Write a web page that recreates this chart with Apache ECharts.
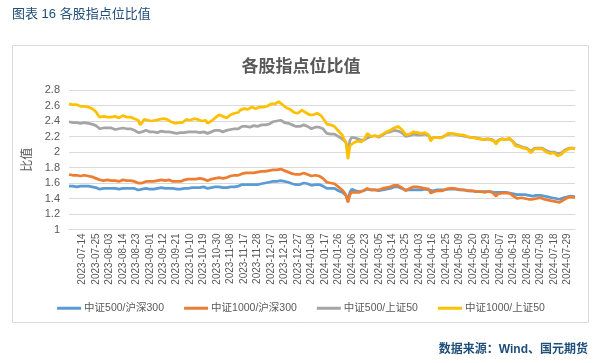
<!DOCTYPE html>
<html>
<head>
<meta charset="utf-8">
<script src="https://cdn.jsdelivr.net/npm/echarts@6/dist/echarts.min.js"></script>
<style>
html,body{margin:0;padding:0;background:#fff;}
#c{width:602px;height:363px;}
</style>
</head>
<body>
<div id="c"></div>
<script>
// trading calendar (China A-share)
const startDate = '2023-07-05';
const endDate = '2024-08-02';
const holidays = ['2023-09-29','2023-10-02','2023-10-03','2023-10-04','2023-10-05','2023-10-06',
  '2024-01-01','2024-02-09','2024-02-12','2024-02-13','2024-02-14','2024-02-15','2024-02-16',
  '2024-04-04','2024-04-05','2024-05-01','2024-05-02','2024-05-03','2024-06-10'];
const seriesNames = ['中证500/沪深300','中证1000/沪深300','中证500/上证50','中证1000/上证50'];

const csi500_hs300 = [
1.56,1.56,1.56,1.56,1.55,1.56,1.56,1.55,1.56,1.56,
1.56,1.55,1.55,1.55,1.54,1.53,1.52,1.52,1.53,1.53,
1.53,1.53,1.53,1.52,1.53,1.53,1.52,1.53,1.53,1.53,
1.53,1.53,1.53,1.53,1.53,1.52,1.51,1.50,1.52,1.53,
1.53,1.52,1.52,1.52,1.52,1.52,1.53,1.53,1.54,1.54,
1.53,1.53,1.53,1.53,1.53,1.52,1.52,1.52,1.52,1.53,
1.53,1.53,1.53,1.54,1.54,1.54,1.54,1.54,1.54,1.55,
1.55,1.54,1.53,1.54,1.54,1.54,1.55,1.55,1.55,1.54,
1.54,1.54,1.54,1.54,1.55,1.55,1.55,1.56,1.56,1.57,
1.58,1.58,1.58,1.58,1.58,1.58,1.58,1.58,1.58,1.59,
1.59,1.59,1.60,1.60,1.61,1.61,1.62,1.62,1.62,1.63,
1.63,1.62,1.62,1.61,1.61,1.60,1.59,1.58,1.58,1.58,
1.58,1.59,1.60,1.59,1.59,1.58,1.57,1.57,1.58,1.58,
1.58,1.57,1.56,1.55,1.53,1.52,1.53,1.53,1.53,1.51,
1.50,1.49,1.48,1.46,1.44,1.37,1.48,1.52,1.51,1.50,
1.50,1.49,1.49,1.50,1.51,1.52,1.52,1.51,1.51,1.51,
1.50,1.50,1.50,1.51,1.52,1.52,1.53,1.53,1.54,1.55,
1.55,1.55,1.54,1.53,1.52,1.51,1.50,1.51,1.51,1.51,
1.51,1.51,1.51,1.51,1.52,1.52,1.51,1.51,1.50,1.50,
1.50,1.51,1.51,1.51,1.51,1.51,1.52,1.52,1.52,1.52,
1.52,1.52,1.52,1.51,1.51,1.51,1.51,1.50,1.50,1.50,
1.50,1.49,1.49,1.49,1.49,1.49,1.49,1.49,1.49,1.49,
1.49,1.48,1.47,1.48,1.48,1.48,1.48,1.48,1.48,1.47,
1.47,1.46,1.45,1.45,1.45,1.45,1.45,1.45,1.44,1.44,
1.43,1.43,1.44,1.44,1.44,1.44,1.43,1.43,1.42,1.42,
1.41,1.41,1.41,1.40,1.40,1.39,1.40,1.41,1.42,1.42,
1.43,1.43,1.42,1.42];

const csi1000_hs300 = [
1.71,1.71,1.70,1.70,1.70,1.70,1.69,1.69,1.70,1.70,
1.69,1.68,1.68,1.67,1.66,1.65,1.64,1.63,1.63,1.64,
1.64,1.64,1.63,1.63,1.63,1.63,1.62,1.63,1.64,1.64,
1.63,1.63,1.63,1.62,1.62,1.62,1.60,1.58,1.60,1.62,
1.62,1.62,1.62,1.62,1.62,1.62,1.63,1.63,1.64,1.64,
1.63,1.63,1.64,1.63,1.62,1.62,1.62,1.62,1.62,1.63,
1.64,1.64,1.65,1.65,1.65,1.65,1.65,1.66,1.66,1.65,
1.65,1.64,1.63,1.64,1.65,1.65,1.66,1.67,1.67,1.66,
1.66,1.66,1.67,1.68,1.69,1.70,1.70,1.70,1.70,1.71,
1.72,1.72,1.73,1.73,1.73,1.73,1.73,1.74,1.74,1.74,
1.75,1.75,1.75,1.76,1.76,1.77,1.77,1.77,1.77,1.78,
1.78,1.77,1.76,1.75,1.74,1.73,1.72,1.72,1.71,1.71,
1.71,1.72,1.73,1.72,1.71,1.70,1.69,1.69,1.70,1.70,
1.69,1.68,1.66,1.64,1.61,1.60,1.60,1.60,1.59,1.57,
1.55,1.53,1.51,1.48,1.44,1.35,1.45,1.48,1.48,1.48,
1.48,1.48,1.49,1.50,1.51,1.53,1.52,1.51,1.51,1.51,
1.51,1.51,1.52,1.53,1.53,1.54,1.55,1.55,1.56,1.57,
1.57,1.57,1.56,1.54,1.52,1.50,1.51,1.53,1.54,1.55,
1.55,1.55,1.54,1.54,1.54,1.53,1.52,1.52,1.47,1.49,
1.49,1.49,1.50,1.50,1.50,1.51,1.52,1.53,1.53,1.53,
1.53,1.52,1.52,1.51,1.51,1.51,1.51,1.51,1.50,1.50,
1.50,1.49,1.49,1.49,1.49,1.49,1.48,1.49,1.49,1.48,
1.48,1.46,1.43,1.46,1.47,1.47,1.47,1.47,1.47,1.47,
1.45,1.43,1.41,1.40,1.41,1.41,1.40,1.40,1.40,1.39,
1.39,1.39,1.40,1.40,1.40,1.41,1.40,1.39,1.38,1.38,
1.37,1.37,1.37,1.36,1.36,1.35,1.36,1.38,1.40,1.41,
1.42,1.42,1.41,1.41];

const csi500_sse50 = [
2.39,2.38,2.38,2.38,2.38,2.38,2.37,2.37,2.38,2.38,
2.37,2.36,2.36,2.35,2.34,2.32,2.30,2.30,2.31,2.31,
2.31,2.31,2.31,2.30,2.29,2.29,2.30,2.31,2.31,2.30,
2.30,2.30,2.30,2.29,2.28,2.27,2.25,2.25,2.26,2.27,
2.28,2.27,2.26,2.26,2.26,2.25,2.25,2.26,2.27,2.27,
2.26,2.26,2.26,2.25,2.25,2.24,2.24,2.24,2.25,2.25,
2.25,2.26,2.26,2.26,2.26,2.26,2.26,2.26,2.25,2.25,
2.26,2.25,2.24,2.25,2.26,2.27,2.28,2.29,2.28,2.26,
2.26,2.27,2.28,2.28,2.29,2.30,2.30,2.30,2.30,2.32,
2.33,2.33,2.33,2.32,2.32,2.33,2.34,2.33,2.33,2.34,
2.35,2.35,2.35,2.36,2.36,2.37,2.39,2.40,2.40,2.42,
2.41,2.39,2.38,2.38,2.37,2.36,2.35,2.34,2.33,2.33,
2.33,2.34,2.35,2.34,2.33,2.31,2.30,2.31,2.32,2.33,
2.32,2.31,2.30,2.27,2.24,2.22,2.23,2.24,2.23,2.21,
2.20,2.19,2.17,2.15,2.12,1.98,2.15,2.19,2.19,2.18,
2.17,2.16,2.15,2.15,2.16,2.18,2.20,2.20,2.21,2.21,
2.20,2.19,2.21,2.22,2.24,2.25,2.25,2.26,2.28,2.28,
2.28,2.27,2.27,2.25,2.24,2.20,2.19,2.21,2.22,2.23,
2.22,2.22,2.22,2.22,2.23,2.23,2.22,2.21,2.17,2.19,
2.19,2.19,2.19,2.18,2.19,2.20,2.22,2.23,2.23,2.23,
2.23,2.22,2.22,2.21,2.21,2.21,2.20,2.20,2.19,2.19,
2.19,2.18,2.18,2.17,2.17,2.16,2.16,2.17,2.17,2.16,
2.16,2.15,2.12,2.15,2.16,2.17,2.16,2.16,2.17,2.17,
2.15,2.13,2.10,2.08,2.08,2.07,2.06,2.06,2.05,2.03,
2.01,2.02,2.05,2.04,2.05,2.06,2.05,2.03,2.02,2.01,
2.00,2.00,2.00,1.99,1.98,1.97,1.99,2.01,2.03,2.04,
2.05,2.05,2.05,2.04];

const csi1000_sse50 = [
2.62,2.62,2.61,2.61,2.61,2.60,2.59,2.58,2.59,2.60,
2.58,2.56,2.56,2.55,2.52,2.48,2.45,2.44,2.46,2.46,
2.45,2.46,2.45,2.45,2.46,2.46,2.44,2.45,2.47,2.46,
2.45,2.45,2.45,2.44,2.43,2.43,2.41,2.35,2.38,2.42,
2.43,2.41,2.40,2.40,2.41,2.41,2.42,2.42,2.44,2.43,
2.42,2.42,2.40,2.39,2.37,2.37,2.38,2.38,2.38,2.38,
2.40,2.42,2.42,2.41,2.42,2.43,2.43,2.42,2.41,2.40,
2.42,2.41,2.37,2.39,2.40,2.42,2.44,2.46,2.48,2.47,
2.46,2.45,2.44,2.46,2.48,2.50,2.50,2.51,2.51,2.54,
2.55,2.56,2.56,2.55,2.56,2.58,2.57,2.56,2.57,2.58,
2.59,2.58,2.57,2.59,2.60,2.62,2.62,2.62,2.63,2.65,
2.64,2.61,2.60,2.57,2.56,2.55,2.53,2.51,2.50,2.50,
2.52,2.54,2.53,2.51,2.49,2.48,2.49,2.48,2.47,2.50,
2.48,2.47,2.45,2.40,2.36,2.34,2.35,2.34,2.33,2.30,
2.27,2.25,2.22,2.16,2.12,1.91,2.08,2.10,2.12,2.13,
2.14,2.14,2.13,2.15,2.18,2.24,2.22,2.20,2.22,2.21,
2.19,2.20,2.21,2.23,2.25,2.26,2.27,2.28,2.30,2.31,
2.32,2.33,2.31,2.29,2.26,2.22,2.20,2.23,2.24,2.26,
2.25,2.25,2.24,2.24,2.26,2.25,2.23,2.22,2.14,2.18,
2.18,2.19,2.19,2.18,2.18,2.20,2.22,2.24,2.23,2.24,
2.24,2.23,2.22,2.22,2.21,2.22,2.21,2.20,2.20,2.19,
2.19,2.18,2.18,2.17,2.16,2.16,2.15,2.17,2.18,2.16,
2.16,2.14,2.10,2.14,2.16,2.17,2.17,2.16,2.17,2.18,
2.15,2.12,2.08,2.06,2.07,2.06,2.05,2.05,2.04,2.02,
1.99,2.01,2.04,2.03,2.04,2.05,2.04,2.02,2.00,1.99,
1.98,1.98,1.99,1.97,1.95,1.94,1.97,2.00,2.02,2.03,
2.05,2.05,2.04,2.04];

function tradingDays(s, e, hol) {
  const out = [];
  const h = new Set(hol);
  const d = new Date(s + 'T00:00:00Z');
  const end = new Date(e + 'T00:00:00Z');
  while (d <= end) {
    const wd = d.getUTCDay();
    const str = d.toISOString().slice(0, 10);
    if (wd !== 0 && wd !== 6 && !h.has(str)) out.push(str);
    d.setUTCDate(d.getUTCDate() + 1);
  }
  return out;
}
const dates = tradingDays(startDate, endDate, holidays);

const colors = ['#5B9BD5', '#ED7D31', '#A5A5A5', '#FFC000'];
const values = [csi500_hs300, csi1000_hs300, csi500_sse50, csi1000_sse50];
const FONT = '"Liberation Sans", "Noto Sans CJK SC", sans-serif';

const chart = echarts.init(document.getElementById('c'), null, {renderer: 'canvas'});
chart.setOption({
  animation: false,
  backgroundColor: '#fff',
  textStyle: {fontFamily: FONT},
  graphic: [
    {type: 'rect', shape: {x: 12.5, y: 45.5, width: 576, height: 277}, style: {fill: 'none', stroke: '#D9D9D9', lineWidth: 1}, z: -1},
    {type: 'text', left: 12, top: 8, style: {text: '图表 16 各股指点位比值', fill: '#1F4E79', font: '13px ' + FONT}},
    {type: 'text', right: 14, top: 344, style: {text: '数据来源：Wind、国元期货', fill: '#1F4E79', font: 'bold 12px ' + FONT}}
  ],
  title: {
    text: '各股指点位比值', left: 'center', top: 54,
    textStyle: {fontSize: 17, fontWeight: 'bold', color: '#595959', fontFamily: FONT}
  },
  legend: {
    data: seriesNames, left: 'center', top: 298, itemWidth: 24, itemHeight: 3, itemGap: 20,
    icon: 'rect',
    textStyle: {fontSize: 10.5, color: '#595959', fontFamily: FONT, padding: [0, 0, 0, -2]}
  },
  grid: {left: 69, right: 27, top: 90, bottom: 133.5, containLabel: false},
  xAxis: {
    type: 'category', data: dates, boundaryGap: false,
    axisLine: {show: true, lineStyle: {color: '#D9D9D9'}},
    axisTick: {show: false},
    axisLabel: {
      rotate: 90, fontSize: 10, color: '#595959', margin: 4, fontFamily: FONT,
      interval: function (i) { return i >= 7 && (i - 7) % 7 === 0; }
    },
    splitLine: {show: false}
  },
  yAxis: {
    type: 'value', min: 1, max: 2.8, interval: 0.2,
    name: '比值', nameLocation: 'middle', nameRotate: 90, nameGap: 33,
    nameTextStyle: {fontSize: 12, color: '#595959', fontFamily: FONT},
    axisLine: {show: false}, axisTick: {show: false},
    axisLabel: {fontSize: 11, color: '#595959', margin: 9, fontFamily: FONT,
      formatter: function (v) { return String(Math.round(v * 10) / 10); }},
    splitLine: {lineStyle: {color: '#D9D9D9', width: 1}}
  },
  series: seriesNames.map(function (n, k) {
    return {
      name: n, type: 'line', data: values[k], showSymbol: false, symbol: 'none',
      lineStyle: {color: colors[k], width: 2.75}, itemStyle: {color: colors[k]}
    };
  })
});
</script>
</body>
</html>
